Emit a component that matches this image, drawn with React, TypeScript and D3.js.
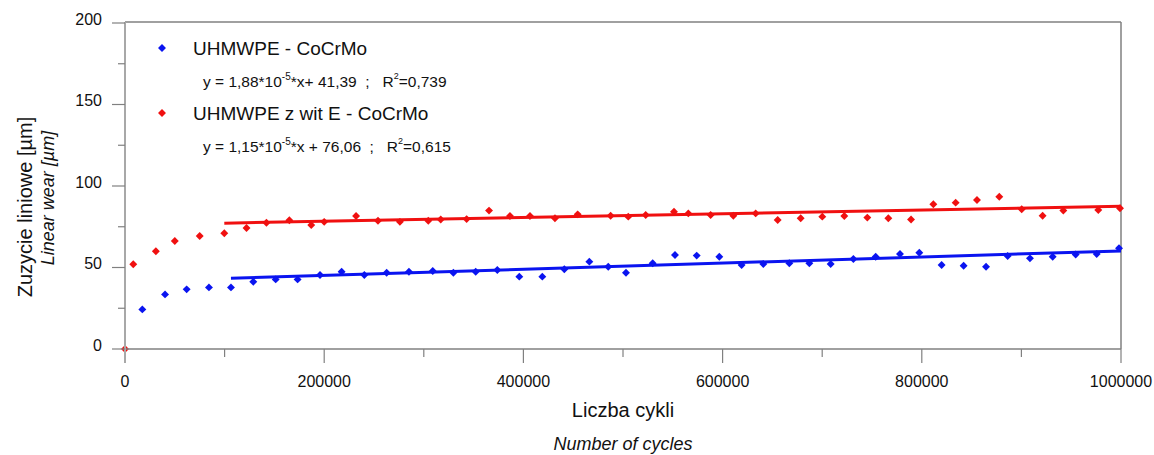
import * as d3 from "d3";

// UHMWPE - CoCrMo (blue)
const cyclesBlue = [
  17400, 40200, 61900, 84300, 106400, 128800, 151300, 173300, 195800, 217500,
  240300, 262700, 285100, 309000, 329700, 352100, 373800, 395900, 419000, 441100,
  466200, 485200, 503000, 529800, 552200, 574000, 596700, 619100, 640900, 667000,
  687100, 708500, 731300, 753700, 778100, 797500, 819900, 842000, 864500, 886200,
  908600, 931400, 954500, 975600, 998000,
];
const wearBlue = [
  24.3, 33.5, 36.6, 37.8, 37.8, 41.3, 42.7, 42.7, 45.4, 47.4,
  45.4, 46.8, 47.4, 47.9, 46.8, 47.4, 48.5, 44.4, 44.4, 48.9,
  53.6, 50.5, 46.8, 52.6, 57.7, 57.3, 56.6, 51.5, 52.1, 52.6,
  52.6, 52.1, 55.2, 56.6, 58.3, 59.1, 51.5, 51.1, 50.5, 57.1,
  55.6, 56.6, 58.0, 58.3, 61.8,
];

// UHMWPE z wit E - CoCrMo (red)
const cyclesRed = [
  0, 8300, 31000, 50000, 75000, 99700, 122000, 142000, 165000, 187000,
  200000, 232000, 254000, 276000, 304500, 317000, 343000, 365500, 386500, 406600,
  431700, 454500, 487600, 505300, 522800, 551200, 565600, 588000, 610800, 633200,
  655300, 678400, 700100, 722200, 745300, 766400, 789200, 811600, 834000, 855400,
  877800, 900300, 921300, 942100, 977200, 999000,
];
const wearRed = [
  0, 52, 60, 66.3, 69.3, 71, 74.2, 77.5, 79, 76,
  78, 81.6, 78.7, 78, 78.7, 79.5, 79.7, 84.9, 81.6, 81.6,
  80.2, 82.6, 81.8, 81.2, 82.2, 84.2, 83.2, 82.2, 81.8, 83.2,
  79.1, 80.2, 81.2, 81.6, 80.6, 80.2, 79.5, 88.8, 89.8, 91.4,
  93.4, 85.7, 81.8, 84.9, 85.3, 86.3,
];

// linear fits from the legend: [slope, intercept, fitted from, fitted to]
const fitBlue = [1.88e-5, 41.39, 106400, 1000000];
const fitRed = [1.15e-5, 76.06, 99700, 1000000];

const xTicks = [0, 200000, 400000, 600000, 800000, 1000000];
const xMinor = [100000, 300000, 500000, 700000, 900000];
const yTicks = [0, 50, 100, 150, 200];
const yMinor = [25, 75, 125, 175];

const W = 1154;
const H = 455;
const left = 125;
const right = 1121;
const top = 23;
const bottom = 349;
const font = "Liberation Sans, Arial, sans-serif";
const axisColor = "#808080";

const x = d3.scaleLinear().domain([0, 1000000]).range([left, right]);
const y = d3.scaleLinear().domain([0, 200]).range([bottom, top]);

const diamond = d3.symbol().type(d3.symbolDiamond2).size(40)();

function fitLine(f: number[]) {
  const pts: [number, number][] = [f[2], f[3]].map((c) => [c, f[0] * c + f[1]]);
  return d3
    .line<[number, number]>()
    .x((d) => x(d[0]))
    .y((d) => y(d[1]))(pts);
}

export default function App() {
  const blue = "#0a14f0";
  const red = "#f01010";
  return (
    <svg
      width={W}
      height={H}
      style={{ position: "absolute", left: 0, top: 0, background: "#fff" }}
      fontFamily={font}
    >
      {/* frame */}
      <line x1={left} x2={right} y1={top - 1} y2={top - 1} stroke={axisColor} strokeWidth={1.5} />
      <line x1={right} x2={right} y1={top - 1} y2={bottom} stroke={axisColor} strokeWidth={1.5} />

      {/* fits */}
      <path d={fitLine(fitRed) || ""} stroke={red} strokeWidth={3} fill="none" />
      <path d={fitLine(fitBlue) || ""} stroke={blue} strokeWidth={3} fill="none" />

      {/* points */}
      {cyclesRed.map((c, i) => (
        <path key={"r" + i} d={diamond} transform={`translate(${x(c)},${y(wearRed[i])})`} fill={red} />
      ))}
      {cyclesBlue.map((c, i) => (
        <path key={"b" + i} d={diamond} transform={`translate(${x(c)},${y(wearBlue[i])})`} fill={blue} />
      ))}

      {/* x axis */}
      <line x1={left} x2={right} y1={bottom} y2={bottom} stroke={axisColor} strokeWidth={1.5} />
      {xTicks.map((t) => (
        <g key={t}>
          <line x1={x(t)} x2={x(t)} y1={bottom} y2={bottom + 14} stroke={axisColor} strokeWidth={1.2} />
          <text x={x(t)} y={387} textAnchor="middle" fontSize={16} fill="#111">
            {t}
          </text>
        </g>
      ))}
      {xMinor.map((t) => (
        <line key={t} x1={x(t)} x2={x(t)} y1={bottom} y2={bottom + 8} stroke={axisColor} strokeWidth={1.2} />
      ))}

      {/* y axis */}
      <line x1={left} x2={left} y1={top - 1} y2={bottom + 14} stroke="#a8a8a8" strokeWidth={2} />
      {yTicks.map((t) => (
        <g key={t}>
          <line x1={left - 13} x2={left} y1={y(t)} y2={y(t)} stroke={axisColor} strokeWidth={1.2} />
          <text x={102} y={y(t)} dy="0.1em" textAnchor="end" fontSize={16} fill="#111">
            {t}
          </text>
        </g>
      ))}
      {yMinor.map((t) => (
        <line key={t} x1={left - 7} x2={left} y1={y(t)} y2={y(t)} stroke={axisColor} strokeWidth={1.2} />
      ))}

      {/* axis titles */}
      <text transform="translate(32,207) rotate(-90)" textAnchor="middle" fontSize={20} fill="#111">
        Zuzycie liniowe [µm]
      </text>
      <text transform="translate(54,198) rotate(-90)" textAnchor="middle" fontSize={18} fontStyle="italic" fill="#111">
        Linear wear [µm]
      </text>
      <text x={(left + right) / 2} y={417} textAnchor="middle" fontSize={20} fill="#111">
        Liczba cykli
      </text>
      <text x={(left + right) / 2} y={450} textAnchor="middle" fontSize={18} fontStyle="italic" fill="#111">
        Number of cycles
      </text>

      {/* legend */}
      <path d={diamond} transform="translate(162,48)" fill={blue} />
      <text x={193} y={55} fontSize={19} fill="#111">
        UHMWPE - CoCrMo
      </text>
      <text x={203} y={87} fontSize={15.5} fill="#111" xmlSpace="preserve">
        <tspan>y = 1,88*10</tspan>
        <tspan dy={-7} fontSize={10}>-5</tspan>
        <tspan dy={7}>*x+ 41,39  ;   R</tspan>
        <tspan dy={-8} fontSize={9}>2</tspan>
        <tspan dy={8}>=0,739</tspan>
      </text>
      <path d={diamond} transform="translate(162,113)" fill={red} />
      <text x={193} y={120} fontSize={19} fill="#111">
        UHMWPE z wit E - CoCrMo
      </text>
      <text x={203} y={152} fontSize={15.5} fill="#111" xmlSpace="preserve">
        <tspan>y = 1,15*10</tspan>
        <tspan dy={-7} fontSize={10}>-5</tspan>
        <tspan dy={7}>*x + 76,06  ;   R</tspan>
        <tspan dy={-8} fontSize={9}>2</tspan>
        <tspan dy={8}>=0,615</tspan>
      </text>
    </svg>
  );
}
